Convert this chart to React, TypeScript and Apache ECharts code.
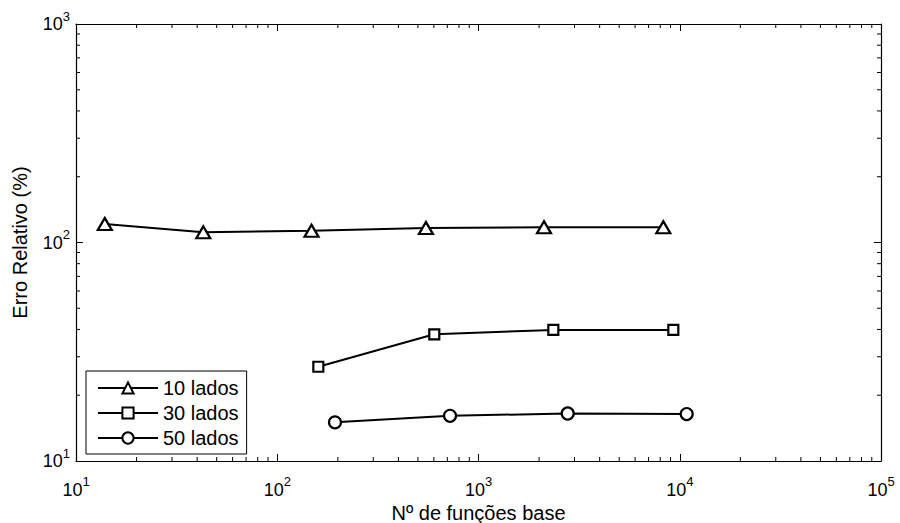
import React, { useEffect, useRef } from "react";
import * as echarts from "echarts";

const seriesNames = ["10 lados", "30 lados", "50 lados"];
const xTri = [13.9, 42.9, 148, 548, 2116, 8285];
const yTri = [121.5, 111.3, 113.2, 116.5, 117.4, 117.4];
const xSq = [160, 603, 2354, 9290];
const ySq = [27.0, 38.0, 39.8, 39.8];
const xCirc = [193.6, 722, 2775, 10826];
const yCirc = [15.03, 16.1, 16.5, 16.4];
const xDecades = [10, 100, 1000, 10000];
const yDecades = [10, 100];
const minorMultipliers = [2, 3, 4, 5, 6, 7, 8, 9];
const xRange = [10, 100000];
const yRange = [10, 1000];

const FONT = "'Liberation Sans', Arial, Helvetica, sans-serif";

function zip(xs: number[], ys: number[]) {
  return xs.map((x, i) => [x, ys[i]]);
}

const supFormatter = (v: number) => {
  const e = Math.round(Math.log10(v));
  return "{b|10}{s|" + e + "}";
};

const richLabel = {
  b: { fontSize: 18, fontFamily: FONT, color: "#000" },
  s: { fontSize: 13, fontFamily: FONT, color: "#000", padding: [0, 0, 16, 0] },
};

export default function App() {
  const ref = useRef<HTMLDivElement>(null);
  useEffect(() => {
    if (!ref.current) return;
    const chart = echarts.init(ref.current, undefined, { renderer: "svg" });
    const xMinor: number[] = [];
    xDecades.forEach((d) => minorMultipliers.forEach((m) => xMinor.push(d * m)));
    const yMinor: number[] = [];
    yDecades.forEach((d) => minorMultipliers.forEach((m) => yMinor.push(d * m)));

    const baseAxis = {
      type: "log" as const,
      logBase: 10,
      axisLine: { show: true, lineStyle: { color: "#000", width: 1.2 } },
      axisTick: { show: true, inside: true, length: 7, lineStyle: { color: "#000", width: 1 } },
      splitLine: { show: false },
      minorTick: { show: false },
    };

    const symbolCommon = {
      itemStyle: { color: "#fff", borderColor: "#000", borderWidth: 2.2 },
      lineStyle: { color: "#000", width: 2 },
      showSymbol: true,
      symbolKeepAspect: false,
    };

    chart.setOption({
      animation: false,
      backgroundColor: "#fff",
      textStyle: { fontFamily: FONT },
      grid: { left: 76, top: 24, right: 19, bottom: 62, containLabel: false, outerBoundsMode: "none" },
      xAxis: [
        {
          ...baseAxis,
          position: "bottom",
          min: xRange[0],
          max: xRange[1],
          name: "Nº de funções base",
          nameLocation: "middle",
          nameGap: 40,
          nameTextStyle: { fontSize: 20, color: "#000", fontFamily: FONT },
          axisLabel: { show: true, margin: 14, formatter: supFormatter, rich: richLabel },
        },
        {
          ...baseAxis,
          position: "top",
          min: xRange[0],
          max: xRange[1],
          axisLabel: { show: false },
        },
      ],
      yAxis: [
        {
          ...baseAxis,
          position: "left",
          min: yRange[0],
          max: yRange[1],
          name: "Erro Relativo (%)",
          nameLocation: "middle",
          nameGap: 46,
          nameTextStyle: { fontSize: 20, color: "#000", fontFamily: FONT },
          axisLabel: { show: true, margin: 6, formatter: supFormatter, rich: richLabel },
        },
        {
          ...baseAxis,
          position: "right",
          min: yRange[0],
          max: yRange[1],
          axisLabel: { show: false },
        },
      ],
      legend: {
        data: seriesNames,
        orient: "vertical",
        left: 86,
        top: 371,
        borderColor: "#000",
        borderWidth: 1,
        borderRadius: 0,
        backgroundColor: "#fff",
        padding: [7, 8, 6, 11],
        itemWidth: 60,
        itemHeight: 14,
        itemGap: 5,
        textStyle: { fontSize: 20, color: "#000", fontFamily: FONT },
      },
      series: [
        {
          type: "custom",
          name: "ticks",
          coordinateSystem: "cartesian2d",
          silent: true,
          clip: false,
          data: [[10, 10]],
          renderItem: (_params: any, api: any) => {
            const children: any[] = [];
            const len = 4;
            const style = { stroke: "#000", lineWidth: 1 };
            xMinor.forEach((v) => {
              const pb = api.coord([v, yRange[0]]);
              const pt = api.coord([v, yRange[1]]);
              children.push({ type: "line", shape: { x1: pb[0], y1: pb[1], x2: pb[0], y2: pb[1] - len }, style });
              children.push({ type: "line", shape: { x1: pt[0], y1: pt[1], x2: pt[0], y2: pt[1] + len }, style });
            });
            yMinor.forEach((v) => {
              const pl = api.coord([xRange[0], v]);
              const pr = api.coord([xRange[1], v]);
              children.push({ type: "line", shape: { x1: pl[0], y1: pl[1], x2: pl[0] + len, y2: pl[1] }, style });
              children.push({ type: "line", shape: { x1: pr[0], y1: pr[1], x2: pr[0] - len, y2: pr[1] }, style });
            });
            return { type: "group", children };
          },
        },
        {
          type: "line",
          name: seriesNames[0],
          data: zip(xTri, yTri),
          symbol: "triangle",
          symbolSize: [14, 12],
          ...symbolCommon,
        },
        {
          type: "line",
          name: seriesNames[1],
          data: zip(xSq, ySq),
          symbol: "rect",
          symbolSize: 10,
          ...symbolCommon,
        },
        {
          type: "line",
          name: seriesNames[2],
          data: zip(xCirc, yCirc),
          symbol: "circle",
          symbolSize: 12,
          ...symbolCommon,
        },
      ],
    });
    return () => chart.dispose();
  }, []);
  return (
    <div
      ref={ref}
      style={{ position: "fixed", left: 0, top: 0, width: 900, height: 523, background: "#fff" }}
    />
  );
}
